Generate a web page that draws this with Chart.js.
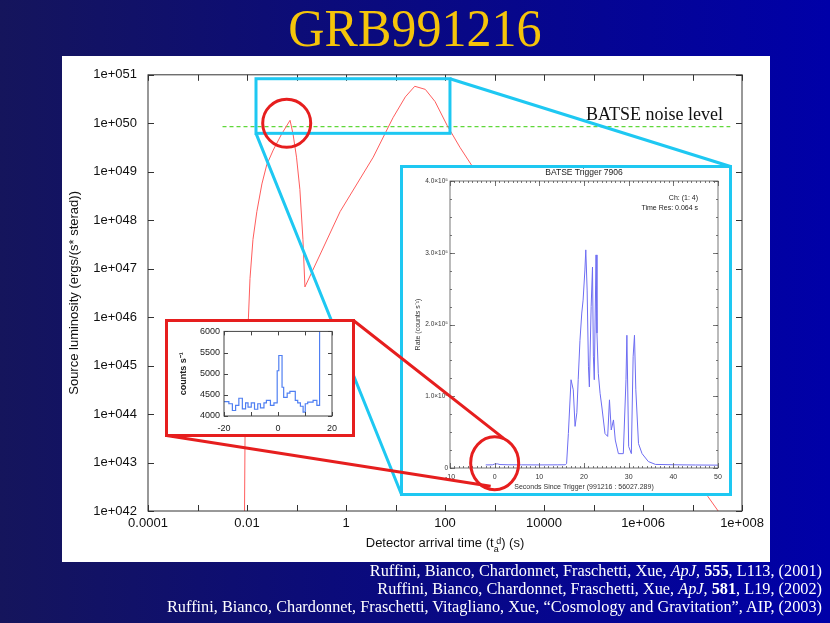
<!DOCTYPE html>
<html>
<head>
<meta charset="utf-8">
<script src="https://cdn.jsdelivr.net/npm/chart.js@4.4.0/dist/chart.umd.min.js"></script>
<style>
  html, body { margin: 0; padding: 0; }
  body { width: 830px; height: 623px; overflow: hidden; position: relative;
    background: linear-gradient(90deg, #15155c 0%, #0b0b7a 40%, #0000a8 100%);
    font-family: "Liberation Sans", Arial, sans-serif; }
  #title { position: absolute; left: 0; top: 2px; width: 830px; text-align: center;
    font: 53px/53px "Liberation Serif", serif; color: #f5c40a; transform: scaleX(0.945); }
  #panel { position: absolute; left: 62px; top: 56px; width: 708px; height: 506px; background: #fff; }
  #panel canvas { position: absolute; left: 0; top: 0; }
  #xtitle { position: absolute; left: 245px; width: 400px; top: 535px; text-align: center;
    font-size: 13px; line-height: 16px; color: #111; }
  .ss { display: inline-block; vertical-align: -5px; font-size: 9px; line-height: 8px; text-align: left; }
  .ss span { display: block; }
  .inset { position: absolute; background: #fff; box-sizing: border-box; }
  #batse { left: 400px; top: 165px; width: 332px; height: 331px; border: 3px solid #1ec8f2; }
  #zoomin { left: 165px; top: 319px; width: 190px; height: 118px; border: 3px solid #e61e1e; }
  .inset canvas { position: absolute; left: 0; top: 0; }
  #overlay { position: absolute; left: 0; top: 0; pointer-events: none; }
  #refs { position: absolute; right: 8px; top: 562px; text-align: right; color: #fff;
    font: 16.3px/18px "Liberation Serif", serif; white-space: nowrap; }
</style>
</head>
<body>
<div id="title">GRB991216</div>
<div id="panel"><canvas id="mainChart" width="708" height="506"></canvas></div>
<div id="xtitle">Detector arrival time (t<span class="ss"><span>&nbsp;d</span><span>a</span></span>) (s)</div>
<div class="inset" id="batse"><canvas id="batseChart" width="326" height="325"></canvas></div>
<div class="inset" id="zoomin"><canvas id="zoomChart" width="184" height="112"></canvas></div>
<canvas id="overlay" width="830" height="623"></canvas>
<div id="refs">
  Ruffini, Bianco, Chardonnet, Fraschetti, Xue, <i>ApJ</i>, <b>555</b>, L113, (2001)<br>
  Ruffini, Bianco, Chardonnet, Fraschetti, Xue, <i>ApJ</i>, <b>581</b>, L19, (2002)<br>
  Ruffini, Bianco, Chardonnet, Fraschetti, Vitagliano, Xue, “Cosmology and Gravitation”, AIP, (2003)
</div>

<script>
// ---- data ----

// main curve: detector arrival time (s) vs source luminosity (erg/(s sterad))
const grbTime = [0.00891, 0.00912, 0.00955, 0.0100, 0.0107, 0.0115, 0.0132, 0.0158, 0.0200, 0.0251, 0.0339, 0.0501, 0.0741,
  0.0851, 0.100, 0.117, 0.135, 0.148,
  0.316, 0.759, 3.55, 8.9, 15.8, 24.5, 40, 63, 110, 200, 355, 1000, 1e4, 1e5, 1e6, 1e7, 2.04e7, 3.3e7];
const grbLum = [1e42, 3.2e43, 4e44, 2e45, 1e46, 6.3e46, 4e47, 1.5e48, 5.6e48, 1.4e49, 2.8e49, 6e49, 1.15e50,
  6e49, 2e49, 4.3e48, 4e47, 4.2e46,
  2.2e47, 1.5e48, 2e49, 1.3e50, 3.5e50, 5.8e50, 5e50, 2.8e50, 9.1e49, 3.2e49, 1.3e49, 3e48, 1.1e47, 4e45, 1.5e44, 5.5e42, 2e42, 1e42];

// BATSE noise level
const noiseTime = [0.0032, 5.8e7];
const noiseLum = [8.5e49, 8.5e49];

const xTickValues = [1e-4, 1e-2, 1, 1e2, 1e4, 1e6, 1e8];
const xTickLabels = ['0.0001', '0.01', '1', '100', '10000', '1e+006', '1e+008'];
const yTickValues = [1e42, 1e43, 1e44, 1e45, 1e46, 1e47, 1e48, 1e49, 1e50, 1e51];
const yTickLabels = ['1e+042', '1e+043', '1e+044', '1e+045', '1e+046', '1e+047', '1e+048', '1e+049', '1e+050', '1e+051'];

// BATSE trigger 7906 light curve: seconds since trigger vs rate (counts/s)
const batseTime = [-2, -0.5, 0, 0.6, 1.2, 3, 6, 10, 14, 15.8,
  16.1, 16.5, 17.1, 17.6, 18.0, 18.4, 18.7, 19.1, 19.5, 19.8,
  20.2, 20.4, 20.7, 21.0, 21.2, 21.6, 21.9, 22.1, 22.3, 22.7,
  22.9, 23.2, 23.6, 24.0, 24.7, 25.3, 25.7, 26.1, 26.6, 27.0,
  27.7, 28.8, 29.4, 29.6, 30.0, 30.6, 31.0, 31.3, 31.6, 32.2,
  33.0, 34.4, 36.0, 40, 45, 50];
const batseRate = [4300, 4400, 5500, 5800, 4800, 4500, 4400, 4300, 4400, 4500,
  6000, 48000, 123000, 109000, 58000, 77000, 123000, 178000, 216000, 234000,
  276000, 304000, 248000, 141000, 113000, 225000, 280000, 155000, 123000, 297000,
  188000, 132000, 104000, 85000, 48000, 44000, 95000, 53000, 67000, 39000,
  20000, 20000, 123000, 185000, 30000, 20000, 155000, 185000, 109000, 34000,
  20000, 9000, 5000, 4500, 4200, 4000];
const batseXTicks = [-10, 0, 10, 20, 30, 40, 50];
const batseYTicks = [0, 1e5, 2e5, 3e5, 4e5];
const batseYLabels = ['0', '1.0×10⁵', '2.0×10⁵', '3.0×10⁵', '4.0×10⁵'];

// zoom on the first pulse: bin start (s) vs counts/s
const zoomTime = [-20, -18.2, -16.9, -15.7, -14.5, -13.2, -12.0, -11.1, -9.9, -8.7,
  -7.5, -6.5, -5.2, -4.3, -2.8, -1.5, -0.3, 0.3, 1.5, 2.1,
  3.4, 4.4, 6.4, 7.3, 8.3, 9.3, 10.1, 11.0, 13.0, 14.4, 15.4, 20];
const zoomCounts = [4340, 4290, 4130, 4250, 4420, 4170, 4310, 4210, 4310, 4160,
  4290, 4190, 4310, 4370, 4250, 4310, 5070, 5430, 4680, 4440,
  4540, 4580, 4370, 4310, 4230, 4090, 4290, 4330, 4370, 4250, 8000, 8000];
const zoomXTicks = [-20, 0, 20];
const zoomYTicks = [4000, 4500, 5000, 5500, 6000];

// ---- layout of the decorations (page pixels) ----
const panelPos = { x: 62, y: 56 };
const batseBox = { left: 401.5, top: 166.5, right: 730.5, bottom: 494.5 };
const zoomBox = { left: 166.5, top: 320.5, right: 353.5, bottom: 435.5 };
const CYAN = '#1ec8f2';
const RED = '#e61e1e';
const SANS = 'Liberation Sans';

const pts = (xs, ys) => xs.map((x, i) => ({ x: x, y: ys[i] }));

// box round the plot area with inward ticks on all four sides
const framePlugin = {
  id: 'frame',
  afterDatasetsDraw(chart, args, o) {
    const { ctx, chartArea: a, scales: { x, y } } = chart;
    ctx.save();
    ctx.strokeStyle = o.color;
    ctx.lineWidth = o.width;
    ctx.beginPath();
    (o.xTicks || []).forEach(([vals, len]) => vals.forEach(v => {
      const p = Math.round(x.getPixelForValue(v)) + 0.5;
      ctx.moveTo(p, a.bottom); ctx.lineTo(p, a.bottom - len);
      ctx.moveTo(p, a.top); ctx.lineTo(p, a.top + len);
    }));
    (o.yTicks || []).forEach(([vals, len]) => vals.forEach(v => {
      const p = Math.round(y.getPixelForValue(v)) + 0.5;
      ctx.moveTo(a.left, p); ctx.lineTo(a.left + len, p);
      ctx.moveTo(a.right, p); ctx.lineTo(a.right - len, p);
    }));
    ctx.stroke();
    ctx.strokeRect(a.left, a.top, a.right - a.left, a.bottom - a.top);
    ctx.restore();
  }
};

// free texts drawn inside a chart
const notesPlugin = {
  id: 'notes',
  afterDraw(chart, args, o) {
    const { ctx, chartArea: a } = chart;
    ctx.save();
    (o.items || []).forEach(it => {
      ctx.font = it.font;
      ctx.fillStyle = it.color || '#222';
      ctx.textAlign = it.align || 'left';
      ctx.textBaseline = 'middle';
      const px = it.fromRight !== undefined ? a.right - it.fromRight : (a.left + a.right) / 2;
      ctx.fillText(it.text, px, it.y);
    });
    ctx.restore();
  }
};

// zoom box and its cyan connectors on the main plot
const zoomFramePlugin = {
  id: 'zoomFrame',
  afterDraw(chart, args, o) {
    const { ctx, scales: { x, y }, chartArea: a } = chart;
    const x0 = x.getPixelForValue(o.t0), x1 = x.getPixelForValue(o.t1);
    const y0 = y.getPixelForValue(o.l1), y1 = y.getPixelForValue(o.l0);
    ctx.save();
    // noise level label
    ctx.font = '18px "Liberation Serif"';
    ctx.fillStyle = '#111';
    ctx.textAlign = 'right';
    ctx.textBaseline = 'alphabetic';
    ctx.fillText('BATSE noise level', a.right - 19, y.getPixelForValue(o.noise) - 7);

    ctx.strokeStyle = CYAN;
    ctx.lineWidth = 3;
    ctx.strokeRect(x0, y0, x1 - x0, y1 - y0);
    ctx.beginPath();
    ctx.moveTo(x1, y0);
    ctx.lineTo(batseBox.right - panelPos.x, batseBox.top - panelPos.y);
    ctx.moveTo(x0, y1);
    ctx.lineTo(batseBox.left - panelPos.x, batseBox.bottom - panelPos.y);
    ctx.stroke();
    ctx.restore();
  }
};

Chart.defaults.font.family = SANS;
Chart.defaults.color = '#111';

const mainChart = new Chart(document.getElementById('mainChart'), {
  type: 'line',
  data: {
    datasets: [
      { data: pts(grbTime, grbLum), borderColor: '#ff5c5c', borderWidth: 1, pointRadius: 0, tension: 0 },
      { data: pts(noiseTime, noiseLum), borderColor: '#5fd83a', borderWidth: 1.3, borderDash: [4, 3], pointRadius: 0 }
    ]
  },
  options: {
    responsive: false, animation: false, events: [],
    layout: { padding: { left: 0, top: 17, right: 28, bottom: 0 } },
    plugins: {
      legend: { display: false }, tooltip: { enabled: false },
      frame: {
        color: '#333', width: 1,
        xTicks: [[Array.from({ length: 13 }, (_, i) => Math.pow(10, i - 4)), 6]],
        yTicks: [[yTickValues, 6]]
      },
      zoomFrame: { t0: 0.0152, t1: 126, l0: 6.2e49, l1: 8.3e50, noise: noiseLum[0] }
    },
    scales: {
      x: {
        type: 'logarithmic', min: 1e-4, max: 1e8,
        grid: { display: false, drawTicks: false }, border: { display: false },
        afterBuildTicks: s => { s.ticks = xTickValues.map(v => ({ value: v })); },
        afterFit: s => { s.height = 51; },
        ticks: { autoSkip: false, maxRotation: 0, padding: 5, font: { size: 13 }, callback: (v, i) => xTickLabels[i] }
      },
      y: {
        type: 'logarithmic', min: 1e42, max: 1e51,
        grid: { display: false, drawTicks: false }, border: { display: false },
        afterBuildTicks: s => { s.ticks = yTickValues.map(v => ({ value: v })); },
        afterFit: s => { s.width = 86; },
        ticks: { autoSkip: false, padding: 11, font: { size: 13 }, callback: (v, i) => yTickLabels[i] },
        title: { display: true, text: 'Source luminosity (ergs/(s* sterad))', padding: { top: 5, bottom: 0 }, font: { size: 13 } }
      }
    }
  },
  plugins: [framePlugin, zoomFramePlugin]
});

const batseChart = new Chart(document.getElementById('batseChart'), {
  type: 'line',
  data: { datasets: [{ data: pts(batseTime, batseRate), borderColor: '#6d6df2', borderWidth: 1, pointRadius: 0, tension: 0 }] },
  options: {
    responsive: false, animation: false, events: [],
    layout: { padding: { left: 0, top: 13, right: 11, bottom: 0 } },
    plugins: {
      legend: { display: false }, tooltip: { enabled: false },
      frame: {
        color: '#555', width: 0.8,
        xTicks: [[batseXTicks, 5], [Array.from({ length: 61 }, (_, i) => i - 10), 2]],
        yTicks: [[batseYTicks, 5], [Array.from({ length: 17 }, (_, i) => i * 25000), 2]]
      },
      notes: {
        items: [
          { text: 'BATSE Trigger 7906', font: '8.5px "Liberation Sans"', y: 5, align: 'center' },
          { text: 'Ch: (1: 4)', font: '7px "Liberation Sans"', y: 30, align: 'right', fromRight: 20 },
          { text: 'Time Res: 0.064 s', font: '7px "Liberation Sans"', y: 40, align: 'right', fromRight: 20 }
        ]
      }
    },
    scales: {
      x: {
        type: 'linear', min: -10, max: 50,
        grid: { display: false, drawTicks: false }, border: { display: false },
        afterBuildTicks: s => { s.ticks = batseXTicks.map(v => ({ value: v })); },
        afterFit: s => { s.height = 25; },
        ticks: { autoSkip: false, maxRotation: 0, padding: 5, color: '#333', font: { size: 7 }, callback: v => String(v) },
        title: { display: true, text: 'Seconds Since Trigger (991216 : 56027.289)', color: '#333', font: { size: 7 }, padding: { top: 0, bottom: 2 } }
      },
      y: {
        min: 0, max: 4e5,
        grid: { display: false, drawTicks: false }, border: { display: false },
        afterBuildTicks: s => { s.ticks = batseYTicks.map(v => ({ value: v })); },
        afterFit: s => { s.width = 47; },
        ticks: { autoSkip: false, padding: 2, color: '#333', font: { size: 6.5 }, callback: (v, i) => batseYLabels[i] },
        title: { display: true, text: 'Rate (counts s⁻¹)', color: '#333', font: { size: 7 }, padding: { top: 11, bottom: 0 } }
      }
    }
  },
  plugins: [framePlugin, notesPlugin]
});

const zoomChart = new Chart(document.getElementById('zoomChart'), {
  type: 'line',
  data: { datasets: [{ data: pts(zoomTime, zoomCounts), borderColor: '#4f7ff2', borderWidth: 1.2, pointRadius: 0, stepped: true }] },
  options: {
    responsive: false, animation: false, events: [],
    layout: { padding: { left: 0, top: 8, right: 20, bottom: 0 } },
    plugins: {
      legend: { display: false }, tooltip: { enabled: false },
      frame: {
        color: '#444', width: 1,
        xTicks: [[[-20, -10, 0, 10, 20], 4]],
        yTicks: [[zoomYTicks, 4]]
      }
    },
    scales: {
      x: {
        type: 'linear', min: -20, max: 20,
        grid: { display: false, drawTicks: false }, border: { display: false },
        afterBuildTicks: s => { s.ticks = zoomXTicks.map(v => ({ value: v })); },
        afterFit: s => { s.height = 18; },
        ticks: { autoSkip: false, maxRotation: 0, padding: 7, color: '#222', font: { size: 9 }, callback: v => String(v) }
      },
      y: {
        min: 4000, max: 6000,
        grid: { display: false, drawTicks: false }, border: { display: false },
        afterBuildTicks: s => { s.ticks = zoomYTicks.map(v => ({ value: v })); },
        afterFit: s => { s.width = 56; },
        ticks: { autoSkip: false, padding: 4, color: '#222', font: { size: 9 }, callback: v => String(v) },
        title: { display: true, text: 'counts s⁻¹', color: '#222', font: { size: 9, weight: 'bold' }, padding: { top: 10, bottom: 0 } }
      }
    }
  },
  plugins: [framePlugin]
});

// red circles and connectors on top of everything
(function drawOverlay() {
  const ctx = document.getElementById('overlay').getContext('2d');
  const mx = mainChart.scales.x, my = mainChart.scales.y;
  const bx = batseChart.scales.x, by = batseChart.scales.y;
  const c1 = { x: panelPos.x + mx.getPixelForValue(0.0634), y: panelPos.y + my.getPixelForValue(1e50) };
  const c2 = { x: 403 + bx.getPixelForValue(0), y: 168 + by.getPixelForValue(6500) };
  ctx.strokeStyle = RED;
  ctx.lineWidth = 3;
  ctx.beginPath();
  ctx.arc(c1.x, c1.y, 24, 0, Math.PI * 2);
  ctx.stroke();
  ctx.beginPath();
  ctx.ellipse(c2.x, c2.y, 24, 26.5, 0, 0, Math.PI * 2);
  ctx.stroke();
  ctx.beginPath();
  ctx.moveTo(zoomBox.right, zoomBox.top);
  ctx.lineTo(c2.x + 9, c2.y - 25);
  ctx.moveTo(zoomBox.left, zoomBox.bottom);
  ctx.lineTo(c2.x - 4, c2.y + 23);
  ctx.stroke();
})();
</script>
</body>
</html>
